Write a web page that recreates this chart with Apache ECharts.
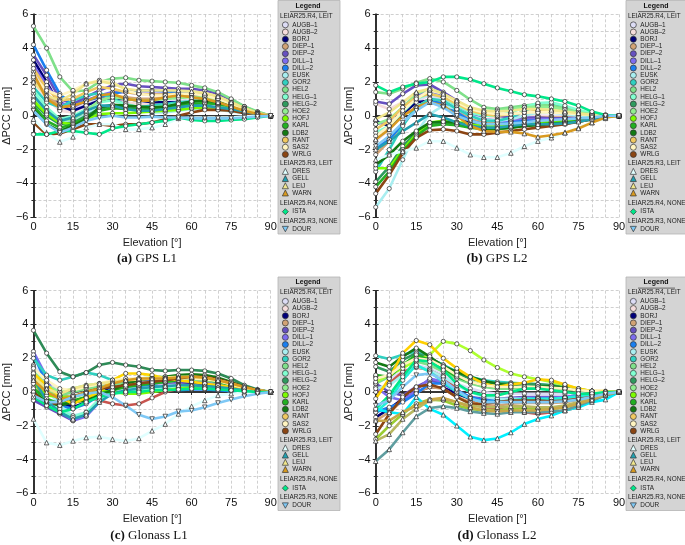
<!DOCTYPE html>
<html><head><meta charset="utf-8">
<script src="https://cdn.jsdelivr.net/npm/echarts@6/dist/echarts.min.js"></script>
<style>html,body{margin:0;padding:0;background:#fff}#c{width:685px;height:545px}</style>
</head><body><div id="c"></div>
<script>
const elevation = [0,5,10,15,20,25,30,35,40,45,50,55,60,65,70,75,80,85,90];
const stations = ['AUGB–1','AUGB–2','BORJ','DIEP–1','DIEP–2','DILL–1','DILL–2','EUSK','GOR2','HEL2','HELG–1','HELG–2','HOE2','HOFJ','KARL','LDB2','RANT','SAS2','WRLG','DRES','GELL','LEIJ','WARN','ISTA','DOUR'];
const groups = ['LEIAR25.R4, LEIT','LEIAR25.R3, LEIT','LEIAR25.R4, NONE','LEIAR25.R3, NONE'];
const groupOf = [0,0,0,0,0,0,0,0,0,0,0,0,0,0,0,0,0,0,0,1,1,1,1,2,3];
const captions = [['(a)','GPS L1'],['(b)','GPS L2'],['(c)','Glonass L1'],['(d)','Glonass L2']];
const xTicks = [0,15,30,45,60,75,90];
const yTicks = [-6,-4,-2,0,2,4,6];

// rows follow the station order
const gpsL1 = [
[2.6,1.4,0.4,0.3,0.7,1.0,1.1,1.0,0.9,0.8,0.8,0.9,0.9,0.8,0.7,0.5,0.3,0.1,0],
[2.0,1.0,0.3,0.2,0.6,0.9,1.0,0.8,0.7,0.7,0.7,0.8,0.8,0.7,0.6,0.4,0.2,0.1,0],
[3.3,2.0,0.6,0.3,0.6,0.9,1.0,1.0,0.9,0.8,0.8,0.8,0.8,0.8,0.7,0.5,0.3,0.1,0],
[2.2,1.2,0.6,0.7,0.9,1.1,1.2,1.1,1.0,1.0,1.1,1.2,1.2,1.1,1.0,0.7,0.4,0.15,0],
[3.6,2.4,1.0,0.7,1.1,1.5,1.8,1.9,1.75,1.7,1.65,1.6,1.6,1.5,1.3,0.95,0.55,0.2,0],
[3.0,1.8,0.8,0.5,0.9,1.2,1.4,1.4,1.3,1.3,1.3,1.3,1.3,1.2,1.1,0.8,0.5,0.2,0],
[4.2,2.7,1.3,0.6,0.9,1.1,1.3,1.45,1.5,1.5,1.45,1.4,1.3,1.2,1.0,0.75,0.45,0.2,0],
[1.3,0.2,-0.4,-0.3,0.1,0.5,0.6,0.5,0.3,0.2,0.2,0.3,0.4,0.4,0.35,0.25,0.15,0.05,0],
[1.7,0.8,0.5,0.9,1.2,1.35,1.05,0.65,0.5,0.6,0.7,0.8,0.85,0.85,0.75,0.55,0.35,0.1,0],
[5.3,4.0,2.3,1.45,1.5,2.0,2.2,2.25,2.1,2.05,2.0,1.95,1.8,1.65,1.4,1.0,0.55,0.25,0],
[1.5,0.5,-0.2,0.0,0.4,0.8,0.9,0.7,0.5,0.5,0.6,0.7,0.8,0.8,0.7,0.5,0.3,0.1,0],
[0.8,0.0,-0.5,-0.4,0.0,0.4,0.6,0.5,0.4,0.4,0.5,0.7,0.85,0.9,0.85,0.65,0.4,0.15,0],
[1.0,0.3,-0.3,-0.2,0.3,0.9,1.1,1.0,0.9,0.9,1.0,1.05,1.1,1.1,1.0,0.75,0.45,0.2,0],
[0.9,0.1,-0.4,-0.5,-0.2,0.1,0.15,0.15,0.2,0.25,0.3,0.35,0.45,0.5,0.5,0.4,0.25,0.1,0],
[0.6,-0.3,-0.7,-0.5,-0.1,0.3,0.45,0.4,0.35,0.35,0.45,0.6,0.7,0.75,0.7,0.55,0.35,0.1,0],
[0.4,-0.5,-0.9,-0.6,-0.2,0.5,0.65,0.6,0.55,0.5,0.55,0.7,0.85,0.9,0.8,0.6,0.35,0.15,0],
[2.8,1.6,0.9,1.0,1.4,1.7,1.6,1.4,1.3,1.25,1.25,1.3,1.3,1.25,1.1,0.8,0.45,0.15,0],
[2.3,1.5,1.2,1.5,1.9,2.1,2.0,1.5,1.3,1.2,1.2,1.3,1.3,1.2,1.0,0.7,0.4,0.15,0],
[-0.4,-1.1,-1.05,-0.8,-0.5,-0.5,-0.6,-0.5,-0.5,-0.4,-0.2,0.0,0.2,0.35,0.35,0.3,0.15,0.05,0],
[-0.2,-1.0,-1.55,-1.25,-0.7,-0.5,-0.5,-0.8,-0.8,-0.7,-0.5,-0.15,-0.1,-0.1,-0.1,-0.1,-0.05,0,0],
[1.2,0.3,-0.3,-0.1,0.3,0.6,0.6,0.4,0.3,0.3,0.4,0.5,0.6,0.6,0.5,0.4,0.25,0.1,0],
[2.0,1.2,0.9,1.3,1.9,2.05,1.9,1.6,1.5,1.5,1.5,1.5,1.45,1.35,1.15,0.8,0.45,0.15,0],
[2.5,1.0,0.5,0.6,0.85,1.2,1.3,1.0,0.9,0.9,1.1,1.2,1.1,1.0,0.8,0.55,0.3,0.1,0],
[-1.1,-1.1,-0.9,-0.9,-1.0,-1.1,-0.75,-0.6,-0.5,-0.4,-0.3,-0.1,-0.25,-0.3,-0.3,-0.25,-0.2,-0.1,0],
[0.3,-0.5,-1.0,-0.7,-0.3,-0.1,0.0,-0.1,-0.1,-0.05,-0.1,-0.1,-0.15,-0.15,-0.15,-0.15,-0.1,-0.05,0]
];
const gpsL2 = [
[-1.5,-0.8,0.2,0.9,1.2,0.9,0.4,0.0,-0.2,-0.2,-0.2,-0.1,0.0,0.0,-0.05,-0.1,-0.05,0,0],
[0.7,0.4,0.8,1.3,1.4,1.1,0.6,0.2,0.0,-0.1,-0.1,0.0,0.0,-0.05,-0.1,-0.1,-0.05,0,0],
[-0.3,-0.6,0.1,0.8,0.9,0.6,0.0,-0.4,-0.6,-0.6,-0.55,-0.5,-0.45,-0.4,-0.35,-0.25,-0.15,-0.05,0],
[-2.3,-1.5,-0.5,0.5,1.0,0.8,0.3,-0.2,-0.4,-0.4,-0.3,-0.2,-0.1,-0.1,-0.1,-0.1,-0.05,0,0],
[0.85,0.7,1.3,1.8,1.85,1.4,0.9,0.4,0.1,0.0,-0.1,-0.1,-0.1,-0.15,-0.15,-0.1,-0.05,0,0],
[-0.5,-0.3,0.5,1.2,1.5,1.1,0.6,0.1,-0.2,-0.3,-0.3,-0.25,-0.2,-0.2,-0.2,-0.15,-0.1,0,0],
[-1.9,-1.4,-0.5,0.5,0.9,0.7,0.2,-0.3,-0.5,-0.5,-0.4,-0.3,-0.3,-0.3,-0.25,-0.2,-0.1,0,0],
[-5.4,-4.3,-2.6,-1.0,0.1,0.6,0.4,0.0,-0.2,-0.3,-0.2,0.0,0.2,0.2,0.1,0.0,-0.05,0,0],
[-3.3,-2.0,-0.6,0.5,1.0,0.9,0.4,0.0,-0.3,-0.3,-0.1,0.3,0.6,0.65,0.5,0.3,0.1,0,0],
[1.4,1.3,1.6,1.95,2.2,2.0,1.5,0.95,0.5,0.4,0.5,0.6,0.7,0.6,0.45,0.3,0.1,0.02,0],
[-1.0,-0.6,0.2,1.0,1.3,1.1,0.6,0.2,0.0,0.0,0.2,0.5,0.75,0.8,0.6,0.35,0.15,0.05,0],
[-3.9,-3.0,-1.8,-1.0,-0.5,-0.4,-0.5,-0.6,-0.7,-0.7,-0.6,-0.5,-0.45,-0.4,-0.35,-0.25,-0.15,-0.05,0],
[-0.5,-0.2,0.5,1.3,1.6,1.3,0.8,0.4,0.3,0.3,0.4,0.5,0.55,0.5,0.35,0.2,0.1,0,0],
[-3.1,-3.1,-2.0,-1.1,-0.4,-0.3,-0.35,-0.5,-0.6,-0.6,-0.5,-0.45,-0.4,-0.35,-0.3,-0.2,-0.1,0,0],
[-4.2,-3.3,-2.1,-1.2,-0.6,-0.5,-0.55,-0.7,-0.8,-0.8,-0.7,-0.6,-0.5,-0.45,-0.4,-0.3,-0.15,-0.05,0],
[-2.9,-2.3,-1.5,-0.9,-0.4,-0.35,-0.4,-0.6,-0.75,-0.75,-0.7,-0.6,-0.55,-0.5,-0.45,-0.35,-0.2,-0.05,0],
[-0.8,-0.3,0.5,1.1,1.3,1.1,0.7,0.3,0.1,0.0,0.1,0.2,0.3,0.3,0.2,0.1,0.05,0,0],
[-1.2,-0.6,0.3,1.0,1.5,1.3,0.8,0.4,0.2,0.1,0.1,0.2,0.2,0.2,0.15,0.1,0.05,0,0],
[-4.6,-3.5,-2.2,-1.3,-0.85,-0.8,-0.9,-1.1,-1.1,-1.0,-0.9,-0.8,-0.7,-0.6,-0.5,-0.35,-0.2,-0.05,0],
[-2.6,-2.3,-2.1,-1.9,-1.5,-1.5,-1.9,-2.3,-2.45,-2.45,-2.2,-1.8,-1.5,-1.3,-1.0,-0.7,-0.4,-0.15,0],
[-2.0,-1.5,-0.9,-0.4,0.1,-0.1,-0.4,-0.6,-0.7,-0.7,-0.6,-0.5,-0.5,-0.5,-0.45,-0.35,-0.2,-0.05,0],
[-0.2,0.2,0.8,1.4,1.6,1.3,0.9,0.5,0.3,0.25,0.3,0.4,0.4,0.35,0.25,0.15,0.05,0,0],
[-1.4,-0.8,0.0,0.5,0.8,0.6,0.0,-0.6,-0.9,-0.95,-0.95,-1.05,-1.25,-1.15,-1.0,-0.75,-0.4,-0.1,0],
[1.8,1.4,1.7,1.9,2.0,2.3,2.3,2.15,1.9,1.65,1.45,1.25,1.15,1.0,0.85,0.6,0.25,0.05,0],
[-1.8,-1.2,-0.4,0.3,0.8,0.5,0.0,-0.3,-0.5,-0.5,-0.45,-0.4,-0.3,-0.25,-0.2,-0.15,-0.1,0,0]
];
const glonassL1 = [
[1.6,0.6,0.0,-0.2,0.0,0.2,0.3,0.3,0.3,0.35,0.4,0.45,0.45,0.4,0.35,0.25,0.15,0.05,0],
[0.6,-0.6,-0.9,-0.7,-0.3,-0.5,-0.7,-0.8,-0.7,-0.35,0.0,0.2,0.3,0.45,0.4,0.3,0.2,0.1,0],
[-0.4,-0.8,-0.6,-0.9,-0.6,-0.2,0.4,0.6,0.6,0.65,0.6,0.6,0.55,0.5,0.45,0.3,0.15,0.05,0],
[1.0,0.3,-0.2,-0.3,0.0,0.3,0.5,0.6,0.6,0.65,0.7,0.75,0.75,0.7,0.6,0.45,0.25,0.1,0],
[-0.5,-0.9,-1.3,-1.7,-1.3,-0.5,0.0,0.3,0.4,0.5,0.55,0.6,0.6,0.55,0.45,0.3,0.2,0.05,0],
[2.4,0.9,-1.1,-1.7,-1.45,-0.6,0.3,0.6,0.7,0.7,0.7,0.7,0.65,0.6,0.5,0.35,0.2,0.05,0],
[2.2,0.5,-0.8,-1.0,-0.7,-0.2,0.2,0.3,0.3,0.4,0.2,0.1,0.15,0.15,0.1,0.05,0.05,0,0],
[1.5,0.2,-0.8,-1.4,-1.2,-0.4,0.1,0.2,0.2,0.3,0.3,0.3,0.3,0.25,0.2,0.15,0.1,0,0],
[2.0,1.0,0.7,0.9,1.15,1.0,0.7,0.5,0.45,0.5,0.6,0.7,0.75,0.7,0.6,0.45,0.25,0.1,0],
[0.9,0.1,-0.2,0.0,0.2,0.3,0.4,0.5,0.5,0.55,0.6,0.7,0.75,0.7,0.6,0.4,0.2,0.05,0],
[0.3,-0.6,-1.0,-1.5,-1.2,-0.5,-0.1,0.0,0.1,0.2,0.3,0.35,0.35,0.3,0.25,0.15,0.1,0,0],
[3.65,2.3,1.2,0.9,1.15,1.6,1.75,1.6,1.5,1.3,1.25,1.3,1.3,1.25,1.1,0.8,0.4,0.15,0],
[1.2,0.4,0.0,0.2,0.4,0.5,0.6,0.7,0.8,0.85,0.9,0.95,0.95,0.85,0.7,0.5,0.25,0.1,0],
[0.5,-0.2,-0.3,-0.3,-0.1,0.1,0.0,-0.1,-0.1,0.0,0.1,0.2,0.3,0.3,0.25,0.15,0.1,0,0],
[0.2,-0.4,-0.7,-0.5,-0.3,-0.1,0.1,0.3,0.4,0.5,0.6,0.7,0.8,0.75,0.6,0.4,0.2,0.05,0],
[0.0,-0.6,-0.8,-0.6,-0.5,-0.2,0.1,0.5,0.7,0.8,0.9,1.0,1.05,1.0,0.85,0.6,0.3,0.1,0],
[1.1,0.4,-0.3,-0.7,-0.35,0.0,0.7,1.1,1.1,1.0,0.8,0.7,0.6,0.5,0.4,0.3,0.2,0.1,0],
[1.4,0.7,0.2,0.1,0.3,0.5,0.7,0.8,0.8,0.8,0.8,0.8,0.8,0.75,0.65,0.45,0.25,0.1,0],
[0.0,-0.8,-0.6,-0.3,0.0,0.2,0.3,0.4,0.5,0.6,0.7,0.8,0.9,0.9,0.75,0.55,0.3,0.1,0],
[-1.6,-3.0,-3.15,-2.9,-2.7,-2.65,-2.8,-2.9,-2.75,-2.3,-1.9,-1.3,-0.85,-0.5,-0.2,-0.1,-0.05,0,0],
[0.8,-0.5,-1.2,-1.6,-1.35,-0.6,-0.1,0.1,0.2,0.3,0.35,0.4,0.4,0.35,0.3,0.2,0.1,0.05,0],
[0.9,0.2,-0.1,0.2,0.4,0.5,0.6,0.7,0.75,0.8,0.85,0.9,0.9,0.85,0.7,0.5,0.25,0.1,0],
[0.7,0.0,-0.4,-0.3,0.0,0.2,0.5,0.7,0.8,0.8,0.8,0.85,0.9,0.85,0.7,0.5,0.3,0.1,0],
[-0.3,-0.8,-1.2,-1.0,-0.6,-0.3,-0.1,0.0,0.0,0.1,0.1,0.15,0.2,0.2,0.15,0.1,0.05,0,0],
[-0.2,-0.6,-0.6,-0.3,-0.1,0.0,-0.3,-0.8,-1.35,-1.6,-1.45,-1.15,-1.1,-0.9,-0.65,-0.45,-0.25,-0.1,0]
];
const glonassL2 = [
[0.9,0.8,1.2,1.6,1.4,1.0,0.5,0.2,0.0,-0.1,-0.1,-0.1,-0.1,-0.1,-0.1,-0.05,0,0,0],
[0.0,0.5,1.2,1.45,1.3,0.9,0.2,-0.5,-0.9,-1.0,-1.1,-1.2,-1.3,-1.2,-1.1,-0.9,-0.5,-0.2,0],
[-1.5,-1.0,-0.4,0.0,0.3,0.25,-0.1,-0.4,-0.5,-0.5,-0.4,-0.4,-0.4,-0.4,-0.35,-0.25,-0.15,-0.05,0],
[-1.7,-1.2,-0.5,0.0,0.3,0.2,-0.3,-0.6,-0.8,-0.8,-0.7,-0.65,-0.65,-0.65,-0.6,-0.45,-0.3,-0.1,0],
[0.5,0.0,-0.2,0.3,0.7,0.5,0.0,-0.3,-0.4,-0.4,-0.35,-0.3,-0.3,-0.3,-0.3,-0.2,-0.1,0,0],
[0.3,-0.3,-0.5,0.1,0.8,0.6,0.1,-0.3,-0.5,-0.5,-0.4,-0.35,-0.35,-0.35,-0.3,-0.2,-0.1,0,0],
[-1.2,-0.9,-0.6,-0.1,0.5,0.5,0.1,-0.3,-0.5,-0.5,-0.45,-0.4,-0.4,-0.4,-0.35,-0.25,-0.15,-0.05,0],
[0.2,0.4,1.0,1.5,1.3,0.9,0.4,0.0,-0.3,-0.4,-0.4,-0.4,-0.45,-0.45,-0.4,-0.3,-0.15,-0.05,0],
[2.15,1.95,2.2,2.4,2.0,1.6,1.2,0.9,0.7,0.6,0.55,0.5,0.45,0.4,0.3,0.15,0.05,0,0],
[0.5,0.9,1.5,1.8,1.6,1.2,0.8,0.5,0.3,0.2,0.2,0.25,0.25,0.2,0.15,0.1,0.05,0,0],
[-1.2,-0.5,0.7,1.6,1.2,0.6,0.0,-0.4,-0.6,-0.6,-0.5,-0.4,-0.4,-0.4,-0.35,-0.25,-0.15,-0.05,0],
[1.5,1.2,1.9,2.3,2.0,1.6,1.1,0.8,0.6,0.5,0.5,0.5,0.45,0.4,0.3,0.15,0.05,0,0],
[-2.8,-2.0,-1.3,-0.7,-0.45,-0.5,-0.8,-1.0,-1.1,-1.1,-1.0,-0.95,-1.0,-1.0,-0.9,-0.7,-0.4,-0.15,0],
[0.6,1.0,1.4,1.9,2.2,3.0,2.85,2.45,1.9,1.45,1.1,0.9,0.75,0.6,0.4,0.2,0.05,0,0],
[1.0,0.9,1.6,2.2,1.9,1.4,0.9,0.6,0.4,0.3,0.3,0.3,0.3,0.3,0.2,0.1,0.05,0,0],
[1.75,1.5,2.1,2.6,2.1,1.5,1.2,0.9,0.65,0.5,0.35,0.3,0.3,0.35,0.2,0.1,0.0,0,0],
[-0.4,0.8,2.3,3.05,2.8,2.0,1.4,0.9,0.5,0.3,0.45,0.55,0.75,0.7,0.45,0.2,0.05,0.05,0],
[0.8,1.0,1.6,2.0,1.9,1.5,1.0,0.6,0.4,0.3,0.3,0.3,0.3,0.25,0.2,0.1,0.05,0,0],
[-2.5,-1.3,-0.3,0.3,0.45,0.2,-0.3,-0.7,-0.7,-0.6,-0.5,-0.5,-0.5,-0.55,-0.5,-0.4,-0.3,-0.1,0],
[-1.0,-1.2,-1.3,-0.3,-1.0,-1.35,-2.0,-2.65,-2.85,-2.75,-2.4,-1.9,-1.6,-1.4,-1.1,-0.9,-0.6,-0.45,0],
[-4.1,-3.4,-2.4,-1.45,-0.95,-0.85,-0.95,-1.15,-1.25,-1.3,-1.2,-1.2,-1.2,-1.15,-1.1,-0.8,-0.5,-0.2,0],
[-2.9,-2.5,-1.6,-1.0,-0.5,-0.4,-0.6,-0.8,-0.9,-0.9,-0.85,-0.85,-0.9,-0.9,-0.8,-0.6,-0.35,-0.1,0],
[-1.7,-1.7,-1.2,-0.8,-0.45,-0.35,-0.6,-0.9,-1.1,-1.15,-1.1,-1.1,-1.1,-1.0,-0.9,-0.7,-0.45,-0.15,0],
[-1.0,-0.2,0.9,1.9,1.8,1.3,0.5,0.0,-0.2,-0.2,0.0,0.2,0.2,0.1,0.0,-0.1,-0.1,0,0],
[-0.8,-0.5,0.3,1.0,1.1,0.7,0.1,-0.4,-0.6,-0.6,-0.6,-0.6,-0.6,-0.6,-0.55,-0.45,-0.3,-0.1,0]
];
const panels = [gpsL1, gpsL2, glonassL1, glonassL2];

// styles
const baseColors = ['#dcdcf5','#f5dcdc','#00007a','#d2a374','#6650c0','#7d6cf0','#1a7ff0','#a8eef0','#30d0c0','#7fe08a','#80ffd0','#2e9a5e','#90ee90','#7cfc00','#22b022','#137a13','#f0c860','#fff4c0','#8b4513','#e0ffff','#22a0b0','#f0e68c','#d89a20','#00e88a','#7ec8f5'];
const panelColorOverrides = [
  {},
  {},
  {'AUGB–2':'#c8554f','RANT':'#ffd700','HELG–2':'#2e8b57'},
  {'AUGB–2':'#c8554f','RANT':'#ffd000','HOFJ':'#adff2f','DRES':'#00f0ff','HELG–1':'#20f0d8','GELL':'#5f9ea0','LEIJ':'#b8b860','WARN':'#c8a848','HOE2':'#9acd32'}
];
const plotSymbols = ['circle','triangle','circle','path://M0,0 L10,0 L5,9 Z'];
const legendIcons = ['circle','triangle','diamond','path://M0,0 L10,0 L5,9 Z'];
const gridBoxes = [
  {left:28.3, top:14.3, width:242.4, height:203},
  {left:375.7, top:14.3, width:243.3, height:203},
  {left:28.3, top:290.7, width:242.4, height:202.6},
  {left:375.7, top:290.7, width:243.3, height:202.6}
];
const offsets = [[0,0],[348,0],[0,276.5],[348,276.5]];
const FONT = '"Liberation Sans", Arial, sans-serif';

const fmtNum = v => v < 0 ? '\u2212' + Math.abs(v) : String(v);
const gridLine = {show:true, lineStyle:{type:[3,2], color:'#c4c4c4', width:0.8}};
const frame = {show:true, lineStyle:{color:'#2a2a2a', width:1.6}};

const xAxes = [], yAxes = [], series = [], legends = [], graphics = [];
gridBoxes.forEach((g, p) => {
  xAxes.push({gridIndex:p, type:'value', min:0, max:90, interval:15, position:'bottom',
    axisLine:frame, axisTick:{show:true, length:3, lineStyle:{color:'#2a2a2a'}},
    minorTick:{show:true, splitNumber:3, length:2, lineStyle:{color:'#2a2a2a'}},
    splitLine:gridLine, minorSplitLine:gridLine,
    axisLabel:{fontSize:11, color:'#111', margin:4, fontFamily:FONT, formatter:fmtNum},
    name:'Elevation [°]', nameLocation:'middle', nameGap:20,
    nameTextStyle:{fontSize:11, color:'#222', fontFamily:FONT}});
  xAxes.push({gridIndex:p, type:'value', min:0, max:90, interval:15, position:'top',
    axisLine:frame, axisTick:{show:true, length:3, lineStyle:{color:'#2a2a2a'}},
    minorTick:{show:true, splitNumber:3, length:2, lineStyle:{color:'#2a2a2a'}},
    splitLine:{show:false}, axisLabel:{show:false}});
  yAxes.push({gridIndex:p, type:'value', min:-6, max:6, interval:2, position:'left',
    axisLine:frame, axisTick:{show:true, length:3, lineStyle:{color:'#2a2a2a'}},
    minorTick:{show:true, splitNumber:2, length:2, lineStyle:{color:'#2a2a2a'}},
    splitLine:gridLine, minorSplitLine:gridLine,
    axisLabel:{fontSize:11, color:'#111', margin:5, fontFamily:FONT, formatter:fmtNum},
    name:'ΔPCC [mm]', nameLocation:'middle', nameGap:18, nameRotate:90,
    nameTextStyle:{fontSize:11, color:'#222', fontFamily:FONT}});
  yAxes.push({gridIndex:p, type:'value', min:-6, max:6, interval:2, position:'right',
    axisLine:frame, axisTick:{show:true, length:3, lineStyle:{color:'#2a2a2a'}},
    minorTick:{show:true, splitNumber:2, length:2, lineStyle:{color:'#2a2a2a'}},
    splitLine:{show:false}, axisLabel:{show:false}});

  const data = panels[p];
  stations.forEach((st, s) => {
    const col = panelColorOverrides[p][st] || baseColors[s];
    const pts = elevation.map((e, k) => [e, data[s][k]]);
    series.push({type:'line', name:st, xAxisIndex:2*p, yAxisIndex:2*p, data:pts,
      showSymbol:false, symbol:'none', silent:true, z:2,
      lineStyle:{color:col, width:2.6}, itemStyle:{color:col}});
  });
  stations.forEach((st, s) => {
    const pts = elevation.map((e, k) => [e, data[s][k]]);
    const grp = groupOf[s];
    series.push({type:'scatter', name:st, xAxisIndex:2*p, yAxisIndex:2*p, data:pts,
      symbol:plotSymbols[grp], symbolSize:grp === 0 || grp === 2 ? 4.2 : 4.5, silent:true, z:3,
      itemStyle:{color:'#ffffff', borderColor:'#222', borderWidth:0.7, opacity:1}});
  });

  // legend box
  const [ox, oy] = offsets[p];
  graphics.push({type:'rect', shape:{x:ox+278, y:oy+0.5, width:62, height:233.5},
    style:{fill:'#d4d4d4', stroke:'#b4b4b4', lineWidth:0.8}, z:10});
  graphics.push({type:'text', x:ox+308, y:oy+6, z:11,
    style:{text:'Legend', font:'bold 7px ' + FONT, fill:'#111', align:'center', verticalAlign:'middle'}});
  graphics.push({type:'line', shape:{x1:ox+290, y1:oy+11.6, x2:ox+327, y2:oy+11.6}, z:11,
    style:{stroke:'#333', lineWidth:0.7}});
  const headerY = [16, 163.5, 203, 221];
  const legendTop = [21.5, 168, 208.3, 226];
  groups.forEach((gName, gi) => {
    graphics.push({type:'text', x:ox+280, y:oy+headerY[gi], z:11,
      style:{text:gName, font:'6.4px ' + FONT, fill:'#222', align:'left', verticalAlign:'middle'}});
    const items = stations.map((st, s) => ({st, s})).filter(o => groupOf[o.s] === gi).map(o => ({
      name:o.st, icon:legendIcons[gi],
      itemStyle:{color:baseColors[o.s], borderColor:'#333', borderWidth:0.7}
    }));
    legends.push({show:true, orient:'vertical', left:ox+282, top:oy+legendTop[gi], padding:0,
      itemWidth:6, itemHeight:6, itemGap:0.5, selectedMode:false, z:12,
      textStyle:{fontSize:6.4, lineHeight:6, color:'#222', fontFamily:FONT, padding:[0,0,0,-1]},
      data:items});
  });
  // caption
  const cx = [147, 497, 149, 497][p];
  graphics.push({type:'text', x:cx, y:oy+259, z:11,
    style:{text:'{b|' + captions[p][0] + '} {r|' + captions[p][1] + '}',
      rich:{b:{font:'bold 13px "Liberation Serif", serif', fill:'#111'}, r:{font:'13px "Liberation Serif", serif', fill:'#111'}},
      align:'center', verticalAlign:'middle'}});
});

const chart = echarts.init(document.getElementById('c'), null, {renderer:'canvas'});
chart.setOption({
  animation:false,
  backgroundColor:'#ffffff',
  grid:gridBoxes.map(g => Object.assign({containLabel:false}, g)),
  xAxis:xAxes, yAxis:yAxes, series:series, legend:legends, graphic:graphics
});
</script></body></html>
